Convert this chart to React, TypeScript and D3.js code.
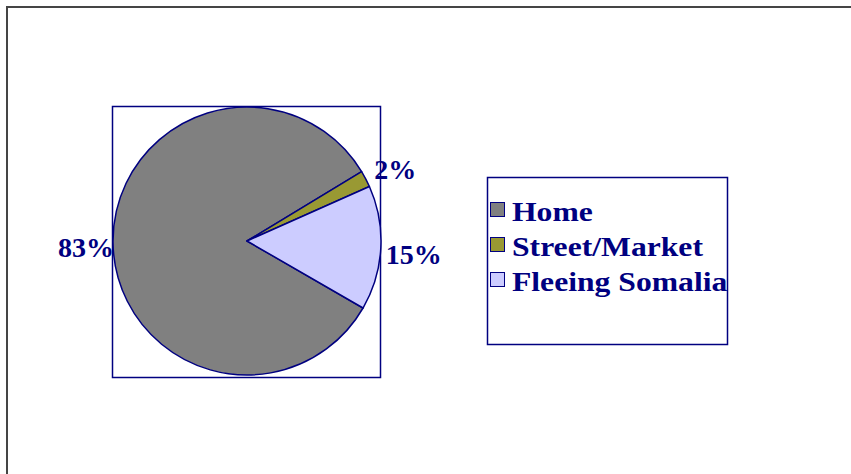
import React, { useEffect, useRef } from 'react';
import * as d3 from 'd3';

const categories = ['Home', 'Street/Market', 'Fleeing Somalia'];
const values = [83, 2, 15];
const labels = ['83%', '2%', '15%'];
const colors = ['#808080', '#999933', '#ccccff'];

const W = 851;
const H = 474;

const App = () => {
    const ref = useRef<SVGSVGElement | null>(null);

    useEffect(() => {
        const svg = d3.select(ref.current);
        svg.selectAll('*').remove();

        const navy = '#000080';
        const font = '"Liberation Serif", "Times New Roman", serif';

        svg.append('rect')
            .attr('width', W).attr('height', H).attr('fill', '#fff');

        // outer chart frame (runs off the right/bottom edge)
        svg.append('rect')
            .attr('x', 7).attr('y', 7)
            .attr('width', W).attr('height', H)
            .attr('fill', 'none')
            .attr('stroke', '#454545')
            .attr('stroke-width', 2);

        // plot area box
        const box = { x: 112.5, y: 106.5, w: 268, h: 271 };
        svg.append('rect')
            .attr('x', box.x).attr('y', box.y)
            .attr('width', box.w).attr('height', box.h)
            .attr('fill', 'none')
            .attr('stroke', navy)
            .attr('stroke-width', 1.5);

        const cx = 247, cy = 241, r = 134;
        const pie = d3.pie<number>()
            .sort(null)
            .startAngle((120 / 180) * Math.PI)
            .endAngle((120 / 180) * Math.PI + 2 * Math.PI);
        const arcs = pie(values);
        const arc = d3.arc<d3.PieArcDatum<number>>().innerRadius(0).outerRadius(r);

        const g = svg.append('g').attr('transform', `translate(${cx},${cy})`);
        g.selectAll('path')
            .data(arcs)
            .enter()
            .append('path')
            .attr('d', arc)
            .attr('fill', (_d, i) => colors[i])
            .attr('stroke', navy)
            .attr('stroke-width', 1.5)
            .attr('stroke-linejoin', 'round');

        const labelArc = d3.arc<d3.PieArcDatum<number>>().innerRadius(164).outerRadius(164);
        g.selectAll('text.lbl')
            .data(arcs)
            .enter()
            .append('text')
            .attr('class', 'lbl')
            .attr('x', d => labelArc.centroid(d)[0] + 3)
            .attr('y', d => labelArc.centroid(d)[1] + 14)
            .attr('text-anchor', 'middle')
            .attr('font-family', font)
            .attr('font-weight', 'bold')
            .attr('font-size', 28)
            .attr('fill', navy)
            .text((_d, i) => labels[i]);

        // legend
        const lg = { x: 487.5, y: 177.5, w: 240, h: 167 };
        svg.append('rect')
            .attr('x', lg.x).attr('y', lg.y)
            .attr('width', lg.w).attr('height', lg.h)
            .attr('fill', '#fff')
            .attr('stroke', navy)
            .attr('stroke-width', 1.5);

        const rowY = d3.scaleBand<string>()
            .domain(categories)
            .range([198, 303]);

        const items = svg.selectAll('g.item')
            .data(categories)
            .enter()
            .append('g')
            .attr('class', 'item')
            .attr('transform', d => `translate(490,${rowY(d)})`);

        items.append('rect')
            .attr('x', 0.5).attr('y', 4.5)
            .attr('width', 14).attr('height', 14)
            .attr('fill', (_d, i) => colors[i])
            .attr('stroke', navy)
            .attr('stroke-width', 1);

        items.append('text')
            .attr('x', 22)
            .attr('y', 23)
            .attr('font-family', font)
            .attr('font-weight', 'bold')
            .attr('font-size', 28)
            .attr('fill', navy)
            .text(d => d)
            .each(function () {
                // the original face (Garamond) runs wider than Liberation Serif
                const t = this as SVGTextElement;
                const len = t.getComputedTextLength();
                t.setAttribute('textLength', String(len * 1.13));
                t.setAttribute('lengthAdjust', 'spacingAndGlyphs');
            });
    }, []);

    return (
        <svg
            ref={ref}
            width={W}
            height={H}
            style={{ position: 'absolute', left: 0, top: 0, display: 'block' }}
        />
    );
};

export default App;
